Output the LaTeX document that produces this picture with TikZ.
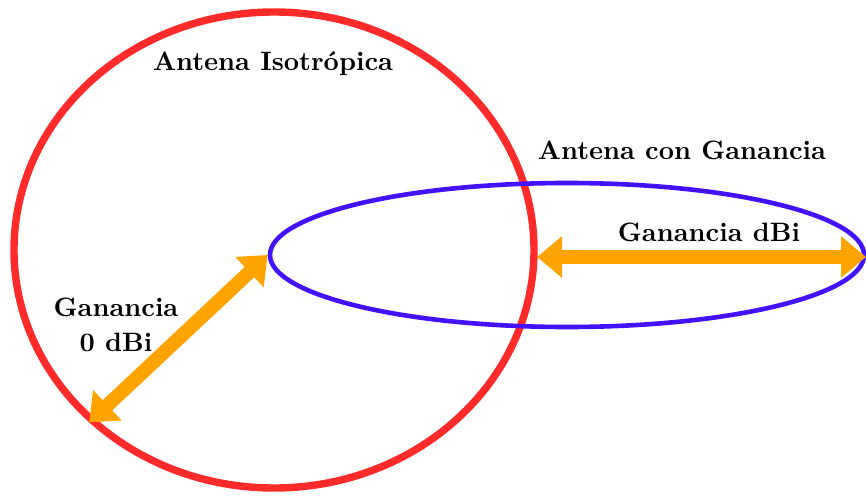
\documentclass[tikz,border=0pt]{standalone}
\usepackage{fontspec}
\usetikzlibrary{arrows.meta,shapes.geometric}
\newfontface\lblfont{lmroman10-bold}[Extension=.otf]
\definecolor{isored}{RGB}{255,42,42}
\definecolor{gainblue}{RGB}{68,17,255}
\definecolor{arrorange}{RGB}{255,163,0}
\begin{document}
\begin{tikzpicture}[x=0.5pt,y=-0.5pt,
  lbl/.style={font=\lblfont\fontsize{13.3}{17.5}\selectfont, inner sep=0pt, align=center},
  pattern lobe/.style={ellipse, draw, inner sep=0pt},
  gain arrow/.style={draw=arrorange, line width=7pt,
    {Triangle[width=20pt,length=12.5pt]}-{Triangle[width=20pt,length=12.5pt]}}]
\useasboundingbox (0,0) rectangle (866,496);

% radiation patterns
\node[pattern lobe, draw=isored, line width=3.7pt, minimum width=260pt, minimum height=238pt] (iso) at (274,250) {};
\node[pattern lobe, draw=gainblue, line width=2.3pt, minimum width=297pt, minimum height=72pt] (gain) at (567,255) {};

% gain arrows
\coordinate (rimleft) at (537,257);
\coordinate (rimright) at (866,257);
\draw[gain arrow] (gain.west) -- (iso.223);
\draw[gain arrow] (rimleft) -- (rimright);

% labels
\node[lbl, anchor=base] (tiso) at (273,71) {Antena Isotrópica};
\node[lbl, anchor=base] (tgain) at (682,160) {Antena con Ganancia};
\node[lbl, anchor=base] (tdbi) at (709,242) {Ganancia dBi};
\node[lbl] (tzero) at (116,325) {Ganancia\\0 dBi};
\end{tikzpicture}
\end{document}
